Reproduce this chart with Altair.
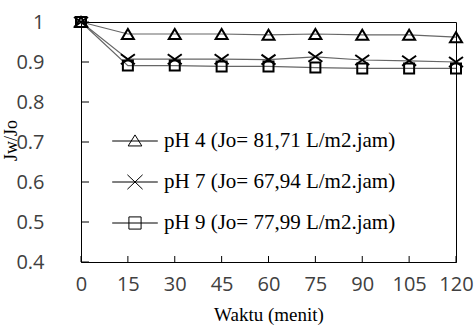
import altair as alt
import pandas as pd

# ---- data ----
times = [0, 15, 30, 45, 60, 75, 90, 105, 120]
series_names = [
    "pH 4 (Jo= 81,71 L/m2.jam)",
    "pH 7 (Jo= 67,94 L/m2.jam)",
    "pH 9 (Jo= 77,99 L/m2.jam)",
]
ph4 = [1.0, 0.970, 0.970, 0.970, 0.968, 0.970, 0.968, 0.968, 0.962]
ph7 = [1.0, 0.907, 0.907, 0.907, 0.906, 0.913, 0.905, 0.903, 0.900]
ph9 = [1.0, 0.891, 0.891, 0.889, 0.889, 0.886, 0.884, 0.884, 0.884]
x_ticks = [0, 15, 30, 45, 60, 75, 90, 105, 120]
y_ticks = [0.4, 0.5, 0.6, 0.7, 0.8, 0.9, 1.0]

rows = []
for name, vals in zip(series_names, [ph4, ph7, ph9]):
    for t, v in zip(times, vals):
        rows.append({"t": t, "v": v, "s": name})
df = pd.DataFrame(rows)

# marker shapes (unit-square paths)
TRI = "M-1.2,1L0,-1L1.2,1Z"
XSH = "M-1.4,-1L1.4,1M-1.4,1L1.4,-1"
SQ = "M-1,-1H1V1H-1Z"

# legend symbols: line + marker
LEG_TRI = "M-1.2,0H1.2M-0.36,0.26L0,-0.32L0.36,0.26Z"
LEG_X = "M-1.2,0H1.2M-0.4,-0.38L0.4,0.38M-0.4,0.38L0.4,-0.38"
LEG_SQ = "M-1.2,0H1.2M-0.32,-0.32H0.32V0.32H-0.32Z"

x_scale = alt.Scale(domain=[0, 120], nice=False, zero=False)
y_scale = alt.Scale(domain=[0.4, 1.0], nice=False, zero=False)

TICK_FONT = "Open Sans"
SERIF = "Liberation Serif"

x_axis = alt.Axis(
    values=x_ticks, ticks=False, tickSize=0, labelPadding=12,
    labelFont=TICK_FONT, labelFontSize=20, labelColor="#404040",
    labelFlush=False, labelOverlap=False, domainColor="black", domainWidth=1,
    grid=False, title="Waktu (menit)", titleFont=SERIF, titleFontSize=19,
    titleFontWeight="normal", titleColor="black", titleX=187.5, titleY=52,
    titleBaseline="middle", titleAlign="center",
)
y_axis = alt.Axis(
    values=y_ticks, format=".1~f", ticks=False, tickSize=0, labelPadding=28,
    offset=9, domain=False,
    labelFont=TICK_FONT, labelFontSize=20, labelColor="#404040",
    labelFlush=False, labelOverlap=False,
    grid=False, title="Jw/Jo", titleFont=SERIF, titleFontSize=18,
    titleFontWeight="normal", titleColor="black", titleX=-61, titleY=118,
    titleAngle=270, titleAlign="center", titleBaseline="middle",
)

base = alt.Chart(df)

lines = base.mark_line(color="#666666", strokeWidth=1.2).encode(
    x=alt.X("t:Q", scale=x_scale, axis=x_axis),
    y=alt.Y("v:Q", scale=y_scale, axis=y_axis),
    detail="s:N",
)

points = base.mark_point(filled=False, color="black", strokeWidth=2, size=100, opacity=1).encode(
    x=alt.X("t:Q", scale=x_scale, axis=x_axis),
    y=alt.Y("v:Q", scale=y_scale, axis=y_axis),
    shape=alt.Shape(
        "s:N",
        scale=alt.Scale(domain=series_names, range=[TRI, XSH, SQ]),
        legend=None,
    ),
)

# legend-only layer (no rows drawn; legend comes from the explicit domain)
legend_layer = base.transform_filter("false").mark_point(
    filled=False, color="black", strokeWidth=1, opacity=1
).encode(
    x=alt.X("t:Q", scale=x_scale, axis=x_axis),
    y=alt.Y("v:Q", scale=y_scale, axis=y_axis),
    shape=alt.Shape(
        "s:N",
        scale=alt.Scale(domain=series_names, range=[LEG_TRI, LEG_X, LEG_SQ]),
        legend=alt.Legend(
            title=None, orient="none", legendX=34.5, legendY=99.5,
            symbolSize=1444, symbolStrokeWidth=1, symbolStrokeColor="black",
            symbolFillColor="transparent", symbolOpacity=1,
            labelFont=SERIF, labelFontSize=21,
            labelColor="black", labelOffset=9.5, rowPadding=11, padding=0,
            labelLimit=0,
        ),
    ),
)

xt = pd.DataFrame({"t": x_ticks})
yt = pd.DataFrame({"v": y_ticks})
xtick_layer = alt.Chart(xt).mark_rule(color="black", strokeWidth=1).encode(
    x=alt.X("t:Q", scale=x_scale, axis=x_axis),
    y=alt.value(240), y2=alt.value(234),
)
ytick_layer = alt.Chart(yt).mark_rule(color="black", strokeWidth=1).encode(
    y=alt.Y("v:Q", scale=y_scale, axis=y_axis),
    x=alt.value(0), x2=alt.value(8),
)

chart = alt.layer(xtick_layer, ytick_layer, lines, points, legend_layer).resolve_scale(
    shape="independent"
).properties(
    width=375, height=240,
    autosize=alt.AutoSizeParams(type="none"),
    padding={"left": 81, "top": 22, "right": 18, "bottom": 69},
).configure_view(
    stroke="black", strokeWidth=1
).configure_axis(
    titleFont=SERIF, titleFontWeight="normal", labelFont=TICK_FONT
)

chart.save("out.html", embed_options={"renderer": "svg", "actions": False})
